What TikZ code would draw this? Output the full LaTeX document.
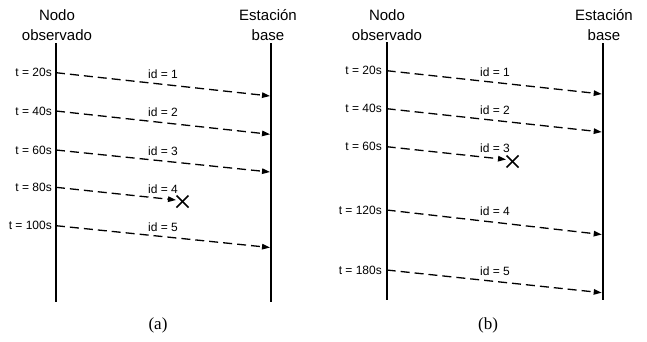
\documentclass[tikz,border=0pt]{standalone}
\usepackage{fontspec}
\setmainfont{Liberation Sans}
\newfontfamily\capfont{Liberation Serif}
\usetikzlibrary{arrows.meta}
\begin{document}
\begin{tikzpicture}[x=1pt,y=-1pt,
  life/.style={line width=1.8pt},
  msg/.style={line width=1.3pt,dash pattern=on 9pt off 5pt,-{Triangle[length=8pt,width=5.5pt]}},
  hdr/.style={font=\fontsize{15}{20}\selectfont,align=center,inner sep=0pt},
  tlab/.style={font=\fontsize{12}{14}\selectfont,anchor=east,inner sep=0pt},
  idlab/.style={font=\fontsize{12}{14}\selectfont,inner sep=0pt},
  lost/.style={line width=1.6pt},
  capt/.style={font=\capfont\fontsize{17}{20}\selectfont,inner sep=0pt}]
\useasboundingbox (0,0) rectangle (647,341);
% ---------- panel (a) ----------
\coordinate (aLt) at (56,43); \coordinate (aLb) at (56,302);
\coordinate (aRt) at (271,43); \coordinate (aRb) at (271,302);
\draw[life] (aLt) -- (aLb);
\draw[life] (aRt) -- (aRb);
\node[hdr] (aH1) at (57,25) {Nodo\\observado};
\node[hdr] (aH2) at (268,25) {Estación\\base};
\foreach \n/\ys/\ye/\t/\i in {1/72.7/96/20/1, 2/111/134.3/40/2, 3/150/172/60/3, 5/225.7/247.5/100/5}{
  \coordinate (aS\n) at (56,\ys);
  \coordinate (aE\n) at (270,\ye);
  \node[tlab] (aT\n) at (52,\ys) {t = \t s};
  \node[idlab] (aI\n) at (163,\ys+1.5) {id = \i};
  \draw[msg] (aS\n) -- (aE\n);
}
\coordinate (aS4) at (56,187.3); \coordinate (aE4) at (176,200);
\node[tlab] (aT4) at (52,187.3) {t = 80s};
\node[idlab] (aI4) at (163,189) {id = 4};
\draw[msg] (aS4) -- (aE4);
\coordinate (aX) at (182.5,201.5);
\draw[lost] ([shift={(-6,-6)}]aX) -- ([shift={(6,6)}]aX);
\draw[lost] ([shift={(-6,6)}]aX) -- ([shift={(6,-6)}]aX);
\node[capt] (aC) at (158,325) {(a)};
% ---------- panel (b) ----------
\coordinate (bLt) at (386.7,42); \coordinate (bLb) at (386.7,300);
\coordinate (bRt) at (602.7,43); \coordinate (bRb) at (602.7,300);
\draw[life] (bLt) -- (bLb);
\draw[life] (bRt) -- (bRb);
\node[hdr] (bH1) at (387,25) {Nodo\\observado};
\node[hdr] (bH2) at (604,25) {Estación\\base};
\foreach \n/\ys/\ye/\t/\i in {1/70.7/94/20/1, 2/108.7/132/40/2, 4/210/234.5/120/4, 5/270/292.7/180/5}{
  \coordinate (bS\n) at (386.7,\ys);
  \coordinate (bE\n) at (601.7,\ye);
  \node[tlab] (bT\n) at (382,\ys) {t = \t s};
  \node[idlab] (bI\n) at (495,\ys+1.5) {id = \i};
  \draw[msg] (bS\n) -- (bE\n);
}
\coordinate (bS3) at (386.7,146.7); \coordinate (bE3) at (506,159.5);
\node[tlab] (bT3) at (382,146.7) {t = 60s};
\node[idlab] (bI3) at (495,148) {id = 3};
\draw[msg] (bS3) -- (bE3);
\coordinate (bX) at (512.5,161.5);
\draw[lost] ([shift={(-6,-6)}]bX) -- ([shift={(6,6)}]bX);
\draw[lost] ([shift={(-6,6)}]bX) -- ([shift={(6,-6)}]bX);
\node[capt] (bC) at (488,325) {(b)};
\end{tikzpicture}
\end{document}
